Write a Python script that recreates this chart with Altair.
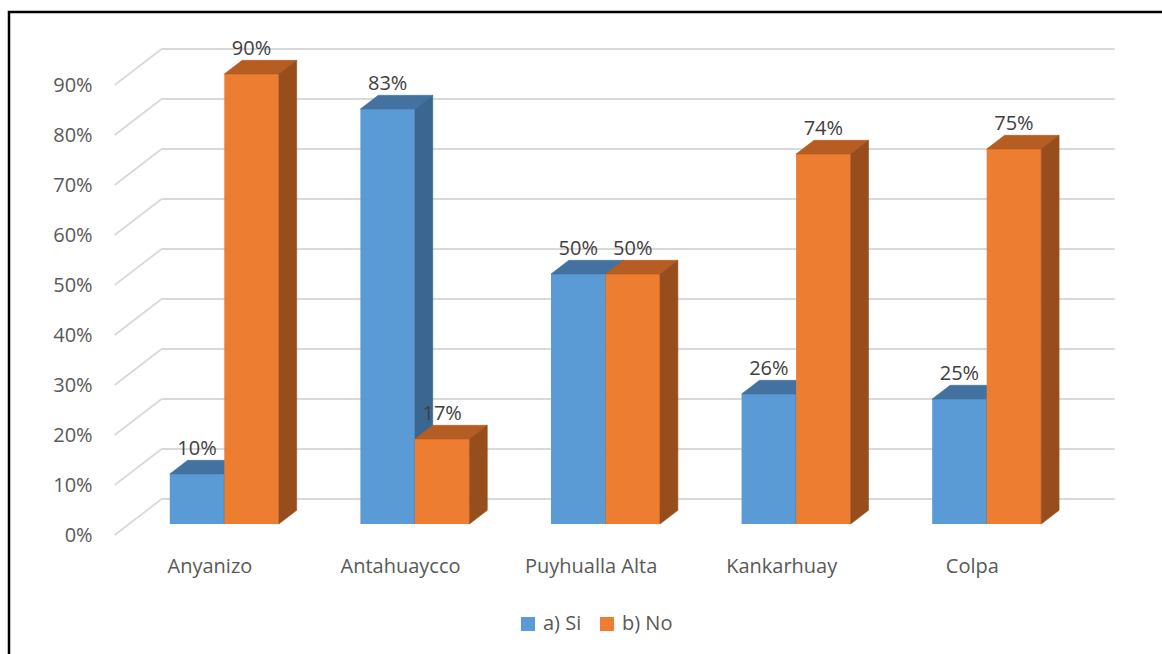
import altair as alt
import pandas as pd

# ---- data ----
categories = ["Anyanizo", "Antahuaycco", "Puyhualla Alta", "Kankarhuay", "Colpa"]
series_names = ["a) Si", "b) No"]
si_values = [10, 83, 50, 26, 25]
no_values = [90, 17, 50, 74, 75]
y_ticks = [0, 10, 20, 30, 40, 50, 60, 70, 80, 90]

# ---- styling / pseudo-3D geometry (in data units) ----
FRONT = {"a) Si": "#5B9BD5", "b) No": "#ED7D31"}
TOP = {"a) Si": "#4472A0", "b) No": "#B55D22"}
SIDE = {"a) Si": "#3A6690", "b) No": "#974E1C"}
BAR_W = 0.286          # bar width in category units
DEPTH_X = 0.2466       # full floor depth, x component (category units)
DEPTH_Y = 7.2          # full floor depth, y component (percent units)
Z_FRONT = 0.306        # depth of bar front plane
Z_BAR = 0.38           # bar thickness as fraction of floor depth
FONT = "Open Sans"

xs = alt.Scale(domain=[0, 5], nice=False, zero=False)
ys = alt.Scale(domain=[0, 100], nice=False, zero=False)

bdx = Z_BAR * DEPTH_X
bdy = Z_BAR * DEPTH_Y
fx = -Z_FRONT * DEPTH_X
fy = -Z_FRONT * DEPTH_Y
bkx = (1 - Z_FRONT) * DEPTH_X
bky = (1 - Z_FRONT) * DEPTH_Y

# gridlines
grid = pd.DataFrame({"v": y_ticks})
grid["lbl"] = grid["v"].astype(str) + "%"
grid["fx"] = fx
grid["fy"] = grid["v"] + fy
grid["bx0"] = bkx
grid["bx1"] = 5 + bkx
grid["by"] = grid["v"] + bky

layers = []

frame = alt.Chart(pd.DataFrame({"a": [0]})).mark_rect(
    fillOpacity=0, stroke="black", strokeWidth=2.5
).encode(x=alt.value(-120), x2=alt.value(1060), y=alt.value(-12), y2=alt.value(660))
layers.append(frame)

gstyle = dict(color="#D9D9D9", strokeWidth=1.8)
layers.append(alt.Chart(grid).mark_rule(**gstyle).encode(
    x=alt.X("bx0:Q", scale=xs, axis=None), x2="bx1:Q",
    y=alt.Y("by:Q", scale=ys, axis=None), y2="by:Q"))
layers.append(alt.Chart(grid).mark_rule(**gstyle).encode(
    x=alt.X("fx:Q", scale=xs, axis=None), x2="bx0:Q",
    y=alt.Y("fy:Q", scale=ys, axis=None), y2="by:Q"))

# y labels
layers.append(alt.Chart(grid).mark_text(
    align="right", baseline="alphabetic", dx=-22, dy=7,
    font=FONT, fontSize=20, color="#595959"
).encode(x=alt.X("fx:Q", scale=xs, axis=None),
         y=alt.Y("fy:Q", scale=ys, axis=None), text="lbl:N"))

# bars
labels_rows = []
for s_idx, (sname, vals) in enumerate(zip(series_names, [si_values, no_values])):
    fronts, faces = [], []
    for i, (cat, v) in enumerate(zip(categories, vals)):
        c = i + 0.5
        x0 = c - BAR_W if s_idx == 0 else c
        x1 = x0 + BAR_W
        fronts.append({"cat": cat, "series": sname, "x0": x0, "x1": x1, "v": v})
        fid = f"{cat}|top"
        faces += [
            {"f": fid, "x": x0, "lo": v, "hi": v},
            {"f": fid, "x": x0 + bdx, "lo": v, "hi": v + bdy},
            {"f": fid, "x": x1, "lo": v, "hi": v + bdy},
            {"f": fid, "x": x1 + bdx, "lo": v + bdy, "hi": v + bdy},
        ]
        for r in faces[-4:]:
            r["fill"] = TOP[sname]
        sid = f"{cat}|side"
        faces += [
            {"f": sid, "x": x1, "lo": 0, "hi": v, "fill": SIDE[sname]},
            {"f": sid, "x": x1 + bdx, "lo": bdy, "hi": v + bdy, "fill": SIDE[sname]},
        ]
        labels_rows.append({"x": (x0 + x1) / 2, "y": v + bdy, "lbl": f"{v}%"})
    fdf = pd.DataFrame(fronts)
    adf = pd.DataFrame(faces)
    layers.append(alt.Chart(fdf).mark_rect(strokeWidth=0).encode(
        x=alt.X("x0:Q", scale=xs, axis=None), x2="x1:Q",
        y=alt.Y("v:Q", scale=ys, axis=None), y2=alt.datum(0),
        color=alt.Color("series:N",
                        scale=alt.Scale(domain=series_names,
                                        range=[FRONT[n] for n in series_names]),
                        legend=alt.Legend(orient="none", legendX=389, legendY=590,
                                          direction="horizontal", title=None,
                                          symbolType="square", symbolSize=196,
                                          symbolStrokeWidth=0, labelFont=FONT,
                                          labelFontSize=20, labelColor="#595959",
                                          labelOffset=5, columnPadding=15))))
    layers.append(alt.Chart(adf).mark_area(orient="vertical", strokeWidth=0.6).encode(
        x=alt.X("x:Q", scale=xs, axis=None),
        y=alt.Y("hi:Q", scale=ys, axis=None), y2="lo:Q",
        detail="f:N",
        fill=alt.Fill("fill:N", scale=None),
        stroke=alt.Stroke("fill:N", scale=None)))

# data labels
ldf = pd.DataFrame(labels_rows)
layers.append(alt.Chart(ldf).mark_text(
    align="center", baseline="alphabetic", dy=-5,
    font=FONT, fontSize=20, color="#404040"
).encode(x=alt.X("x:Q", scale=xs, axis=None),
         y=alt.Y("y:Q", scale=ys, axis=None), text="lbl:N"))

# category labels
cdf = pd.DataFrame({"cat": categories})
cdf["x"] = [i + 0.5 + fx for i in range(len(categories))]
cdf["y"] = fy
layers.append(alt.Chart(cdf).mark_text(
    align="center", baseline="alphabetic", dy=38,
    font=FONT, fontSize=20, color="#595959"
).encode(x=alt.X("x:Q", scale=xs, axis=None),
         y=alt.Y("y:Q", scale=ys, axis=None), text="cat:N"))

chart = alt.layer(*layers).properties(
    width=953, height=500,
    padding={"left": 129, "top": 24, "right": 80, "bottom": 130},
    autosize="none", background="white"
).configure_view(stroke=None)

chart.save("out.html", embed_options={"renderer": "svg", "actions": False})
